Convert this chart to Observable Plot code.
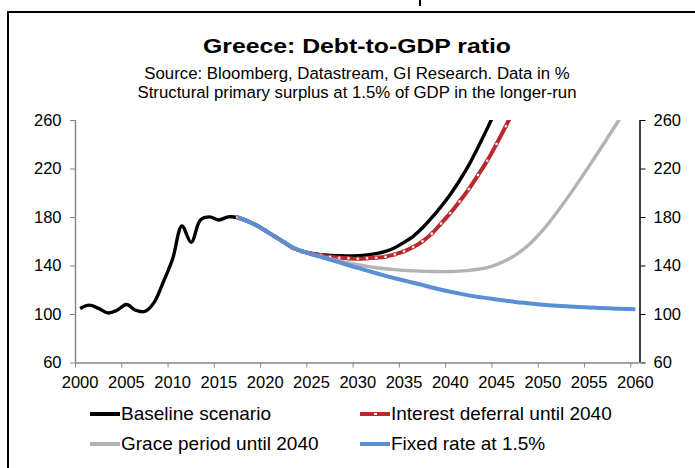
<!DOCTYPE html>
<html><head><meta charset="utf-8">
<script src="https://cdn.jsdelivr.net/npm/d3@7"></script>
<script src="https://cdn.jsdelivr.net/npm/@observablehq/plot@0.6"></script>
<style>
body{margin:0;background:#fff;font-family:"Liberation Sans",Arial,Helvetica,sans-serif;}
#wrap{position:relative;width:695px;height:468px;overflow:hidden;background:#fff;}
#frame{position:absolute;left:7px;top:11px;width:760px;height:520px;border:2px solid #000;box-sizing:border-box;}
#tick{position:absolute;left:419px;top:0;width:2px;height:6px;background:#000;}
.t{position:absolute;left:0;width:714px;text-align:center;color:#000;white-space:nowrap;}
#title{top:33px;font-weight:bold;font-size:21px;line-height:26px;transform:scaleX(1.18);transform-origin:357px 0;}
#sub1{top:64px;font-size:16.8px;line-height:20px;}
#sub2{top:83px;font-size:16.8px;line-height:20px;}
#chart{position:absolute;left:0;top:100px;}
.li{position:absolute;height:24px;display:flex;align-items:center;font-size:19px;color:#000;white-space:nowrap;}
.sw{width:30px;height:4px;margin-right:1px;position:relative;}
.mk{position:absolute;left:13px;top:0px;width:3px;height:2px;background:#fff;border:1px solid #b8282c;box-sizing:content-box;top:0px;}
</style></head><body>
<div id="wrap">
  <div id="frame"></div>
  <div id="tick"></div>
  <div class="t" id="title">Greece: Debt-to-GDP ratio</div>
  <div class="t" id="sub1">Source: Bloomberg, Datastream, GI Research. Data in %</div>
  <div class="t" id="sub2">Structural primary surplus at 1.5% of GDP in the longer-run</div>
  <div id="chart"></div>
  <div id="legend"></div>
</div>
<script>
// ---- data ----
const seriesNames = ["Baseline scenario", "Interest deferral until 2040", "Grace period until 2040", "Fixed rate at 1.5%"];
const seriesColors = ["#000000", "#b8282c", "#b3b3b3", "#5a8fd6"];

const historyStart = 2000;
const history = [105, 107.7, 105, 101.3, 103.5, 108.2, 103.5, 102.5, 110, 127, 146, 173, 159.5, 178, 180.5, 178, 180.5];

const projStart = 2017;
const baseline = [180, 177.3, 173.8, 169.3, 164.5, 159.8, 155.0, 152.0, 150.4, 149.4, 148.8, 148.4, 148.3, 148.6, 149.2, 150.2, 152.0, 155.0, 159.5, 164.5, 171.5, 179.8, 189.0, 199.0, 210.5, 223.2, 238.0, 253.5, 270];
const interestDeferral = [180, 177.3, 173.8, 169.3, 164.5, 159.8, 154.8, 152.0, 150.1, 148.8, 147.6, 146.8, 146.3, 146.0, 146.3, 146.8, 147.6, 149.6, 152.1, 155.6, 160.4, 166.7, 175.0, 183.6, 193.2, 203.4, 215.0, 226.9, 240.7, 255.3, 271];
const gracePeriod = [180, 177.3, 173.8, 169.3, 164.5, 159.8, 155.0, 152.3, 150.0, 147.9, 146.0, 144.2, 142.5, 141.0, 139.7, 138.6, 137.7, 137.0, 136.4, 136.0, 135.7, 135.5, 135.4, 135.5, 135.8, 136.4, 137.3, 138.7, 141.2, 144.5, 148.8, 154.3, 161.3, 169.6, 179.0, 189.2, 199.9, 211.0, 222.4, 234.0, 245.8, 257.7, 269.8];
const fixedRate = [180, 177.3, 173.8, 169.3, 164.5, 159.8, 155.2, 152.2, 149.7, 147.5, 145.3, 143.0, 140.6, 138.4, 136.2, 134.0, 131.9, 129.9, 128.0, 126.2, 124.3, 122.3, 120.4, 118.7, 117.2, 115.8, 114.5, 113.5, 112.4, 111.4, 110.4, 109.6, 108.9, 108.1, 107.5, 107.0, 106.6, 106.1, 105.7, 105.4, 105.1, 104.8, 104.6, 104.4];

const yTicks = [60, 100, 140, 180, 220, 260];
const xLabels = [2000, 2005, 2010, 2015, 2020, 2025, 2030, 2035, 2040, 2045, 2050, 2055, 2060];

// ---- build tables ----
const toRows = (start, vals) => vals.map((v, i) => ({year: start + i, value: v}));
const baseRows = toRows(historyStart, history).concat(toRows(projStart, baseline));
const deferRows = toRows(projStart, interestDeferral);
const graceRows = toRows(projStart, gracePeriod);
const fixedRows = toRows(projStart, fixedRate);

// category axis: each year is a slot; tick marks sit on slot boundaries
const xTickMarks = xLabels.map(d => d - 0.5);
const axisGrey = "#868686";
const font = "'Liberation Sans', Arial, Helvetica, sans-serif";

const lineOpts = (color, w) => ({x: "year", y: "value", stroke: color, strokeWidth: w, curve: "catmull-rom", clip: true, strokeLinejoin: "round", strokeLinecap: "butt"});

const chart = Plot.plot({
  width: 695,
  height: 290,
  marginLeft: 75,
  marginRight: 55.5,
  marginTop: 20,
  marginBottom: 27.5,
  style: {fontFamily: font, fontSize: "16.5px", color: "#000", background: "transparent", overflow: "visible"},
  x: {domain: [1999.5, 2060.5], axis: null},
  y: {domain: [60, 260], axis: null},
  marks: [
    Plot.axisY({anchor: "left", ticks: yTicks, tickSize: 5, tickPadding: 9, stroke: axisGrey, fill: "#000", label: null, tickFormat: d => String(d)}),
    Plot.axisY({anchor: "right", ticks: yTicks, tickSize: 5, tickPadding: 8.5, stroke: "#000", fill: "#000", label: null, tickFormat: d => String(d)}),
    Plot.axisX({anchor: "bottom", ticks: xTickMarks, tickSize: 5, stroke: axisGrey, label: null, tickFormat: () => ""}),
    Plot.axisX({anchor: "bottom", ticks: xLabels, tickSize: 0, tickPadding: 13, fill: "#000", label: null, tickFormat: d => String(d)}),
    Plot.ruleY([60], {stroke: axisGrey, strokeWidth: 1.5}),
    Plot.ruleX([1999.5], {stroke: axisGrey, strokeWidth: 1.5}),
    Plot.ruleX([2060.5], {stroke: "#000", strokeWidth: 1.5}),
    Plot.line(baseRows, lineOpts(seriesColors[0], 3.4)),
    Plot.line(deferRows, lineOpts(seriesColors[1], 4)),
    Plot.dot(deferRows, {x: "year", y: "value", symbol: "square", r: 1.7, fill: "#fff", stroke: seriesColors[1], strokeWidth: 0.7, clip: true}),
    Plot.line(graceRows, lineOpts(seriesColors[2], 3.4)),
    Plot.line(fixedRows, lineOpts(seriesColors[3], 4))
  ]
});
document.getElementById("chart").appendChild(chart);

// ---- legend ----
const legendPos = [[90, 402], [360, 402], [90, 432], [360, 432]];
const legend = document.getElementById("legend");
seriesNames.forEach((name, i) => {
  const item = document.createElement("div");
  item.className = "li";
  item.style.left = legendPos[i][0] + "px";
  item.style.top = legendPos[i][1] + "px";
  const sw = document.createElement("div");
  sw.className = "sw";
  sw.style.background = seriesColors[i];
  if (i === 1) { const mk = document.createElement("div"); mk.className = "mk"; sw.appendChild(mk); }
  const tx = document.createElement("span");
  tx.textContent = name;
  item.appendChild(sw);
  item.appendChild(tx);
  legend.appendChild(item);
});
</script>
</body></html>
